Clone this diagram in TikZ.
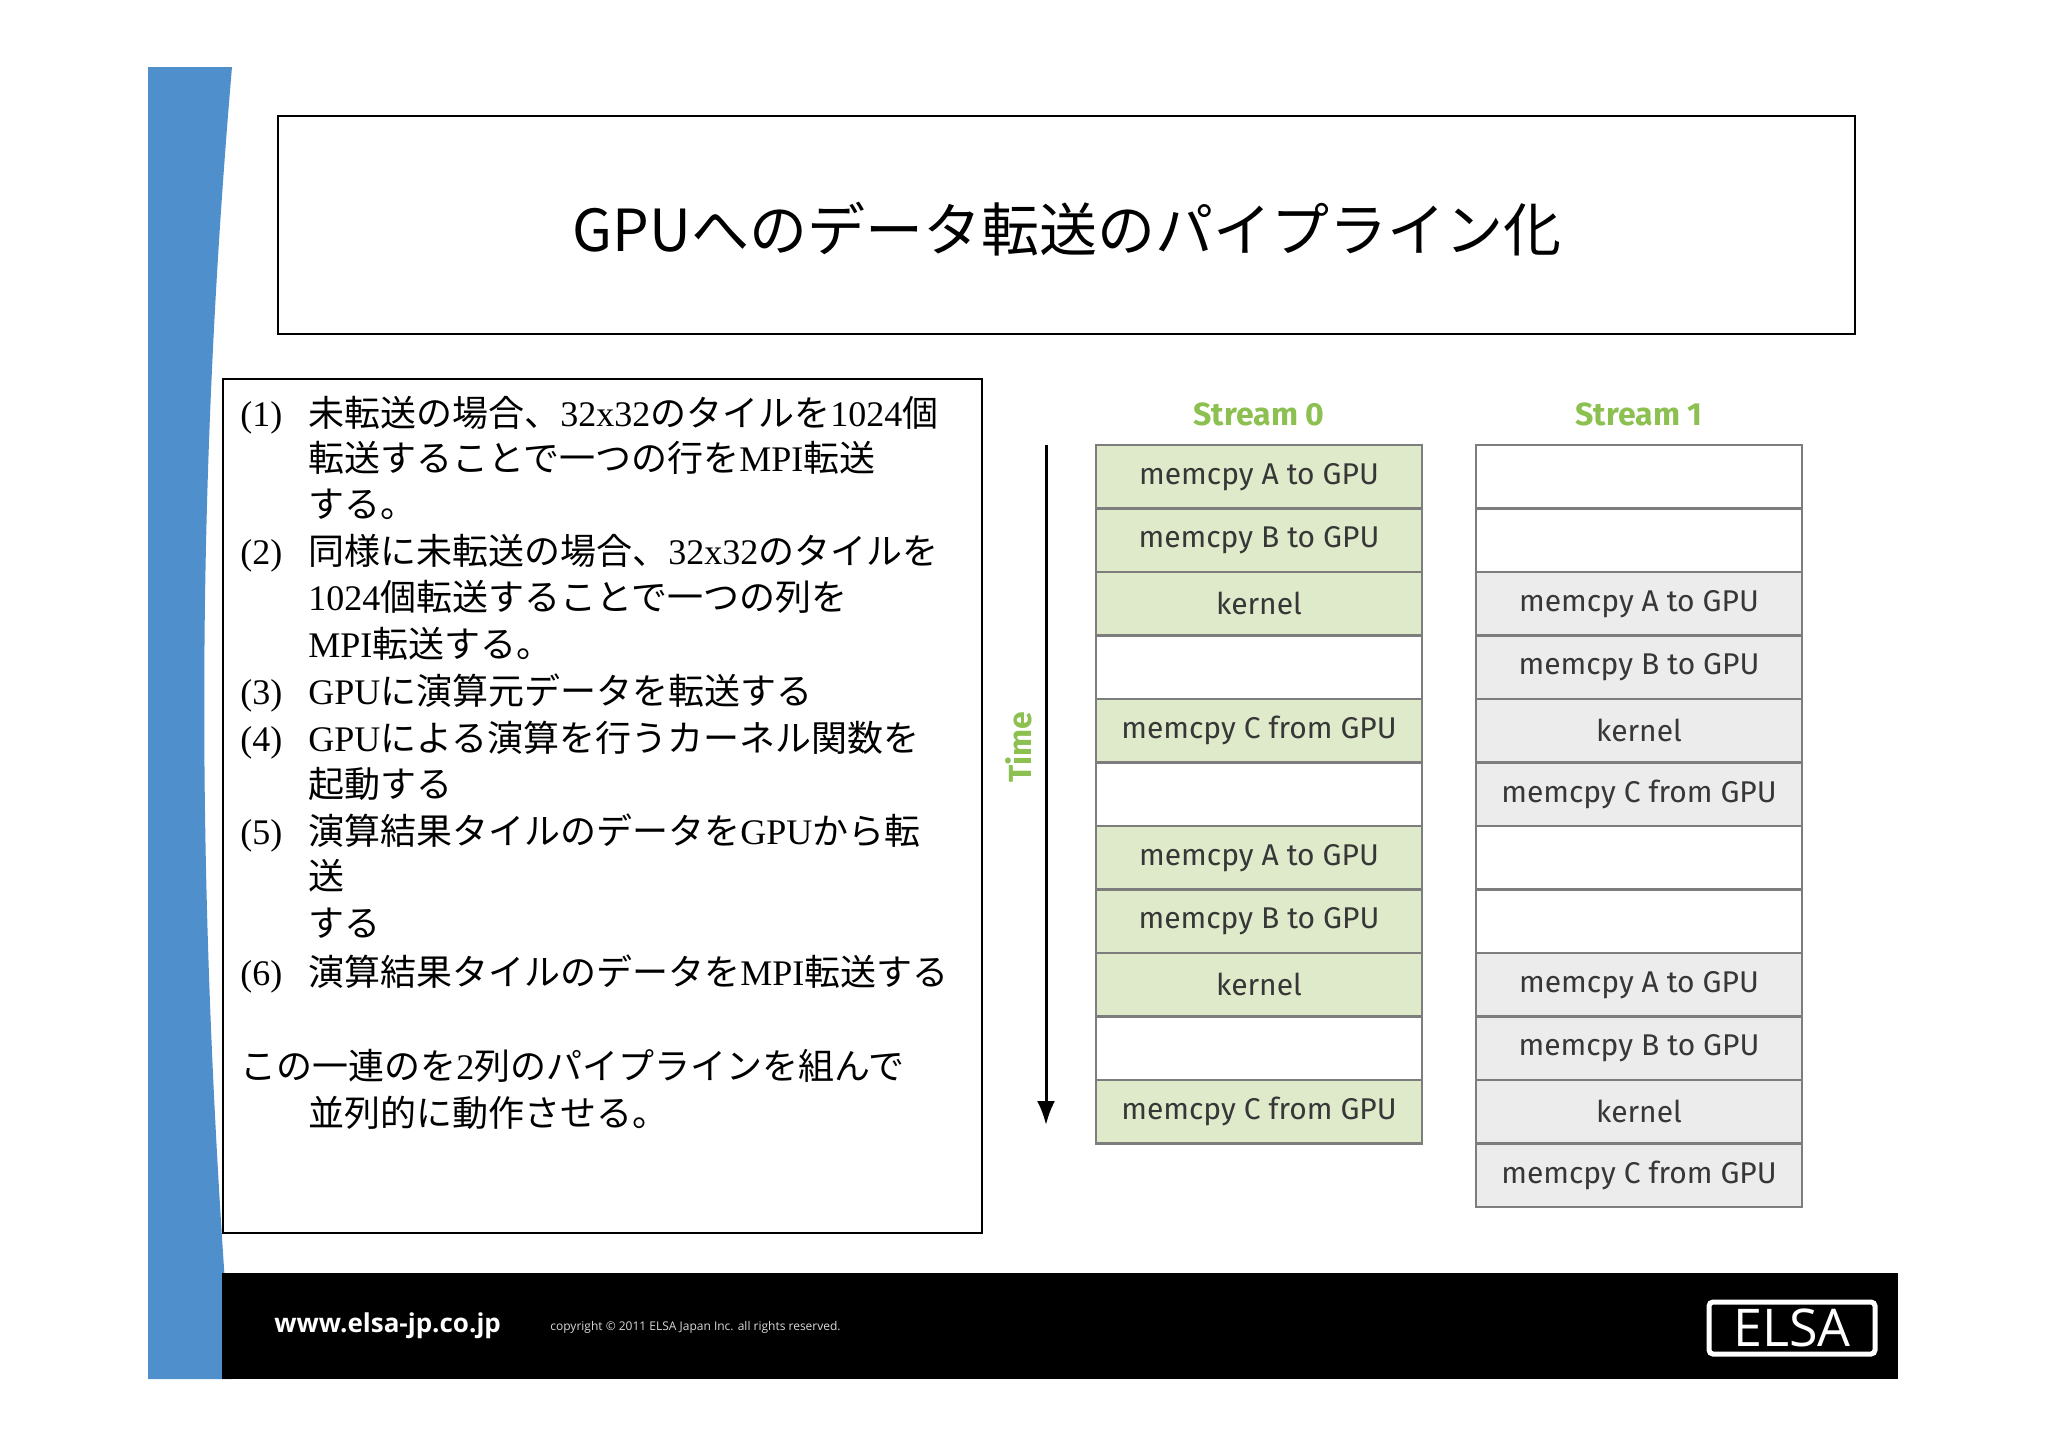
\documentclass[tikz,border=0pt]{standalone}
\usetikzlibrary{arrows.meta}
\usepackage{fontspec}
\setmainfont{Noto Sans CJK JP}
\newfontfamily\jp{Noto Sans CJK JP}
\newfontfamily\lat{Liberation Serif}
\newfontfamily\tbl{Fira Sans}
\newfontfamily\ft{Open Sans}
\definecolor{bluebar}{RGB}{79,143,204}
\definecolor{grn}{RGB}{222,234,201}
\definecolor{gry}{RGB}{236,236,236}
\definecolor{bord}{RGB}{125,125,125}
\definecolor{txt}{RGB}{55,55,55}
\definecolor{hdr}{RGB}{140,192,80}
\newcommand{\Lt}[1]{{\lat #1}}
\begin{document}
\begin{tikzpicture}[x=0.5pt,y=-0.5pt,
  cell/.style={draw=bord,line width=1.2pt,minimum width=163pt,minimum height=31.75pt,inner sep=0,font=\tbl\fontsize{15}{18}\selectfont,text=txt},
  cg/.style={cell,fill=grn}, cy/.style={cell,fill=gry}, ce/.style={cell,fill=white},
  li/.style={anchor=base west,inner sep=0,font=\jp\fontsize{18}{22}\selectfont}]
\useasboundingbox (0,0) rectangle (2048,1447);
\fill[white] (0,0) rectangle (2048,1447);
% blue bar
\fill[bluebar] (148,67) -- (232,67) .. controls (195,500) and (195,900) .. (232,1379) -- (148,1379) -- cycle;
% footer
\fill[black] (222,1273) rectangle (1898,1379);
\node[anchor=west,text=white,inner sep=0,font=\ft\bfseries\fontsize{13}{15}\selectfont] (url) at (274,1326) {www.elsa-jp.co.jp};
\node[anchor=west,text=white!85!black,inner sep=0,font=\ft\fontsize{6}{7}\selectfont] (copy) at (550,1327) {copyright © 2011 ELSA Japan Inc. all rights reserved.};
\node[draw=white,line width=2.5pt,rounded corners=2pt,minimum width=83pt,minimum height=26pt,inner sep=0,text=white,font=\ft\fontsize{26}{26}\selectfont] (logo) at (1792,1328) {ELSA};
% title
\node[draw=black,line width=0.8pt,minimum width=788.5pt,minimum height=109pt,inner sep=0] (title) at (1066.5,225) {};
\node[font=\jp\fontsize{29}{34}\selectfont] (tt) at (1067,229) {GPUへのデータ転送のパイプライン化};
% left text box
\draw[line width=0.8pt] (223,379) rectangle (982,1233);
\node[li] at (240,426) {\Lt{(1)}};
\node[li] at (308,426) {未転送の場合、\Lt{32x32}のタイルを\Lt{1024}個};
\node[li] at (308,471) {転送することで一つの行を\Lt{MPI}転送};
\node[li] at (308,517) {する。};
\node[li] at (240,564) {\Lt{(2)}};
\node[li] at (308,564) {同様に未転送の場合、\Lt{32x32}のタイルを};
\node[li] at (308,610) {\Lt{1024}個転送することで一つの列を};
\node[li] at (308,657) {\Lt{MPI}転送する。};
\node[li] at (240,704) {\Lt{(3)}};
\node[li] at (308,704) {\Lt{GPU}に演算元データを転送する};
\node[li] at (240,751) {\Lt{(4)}};
\node[li] at (308,751) {\Lt{GPU}による演算を行うカーネル関数を};
\node[li] at (308,797) {起動する};
\node[li] at (240,844) {\Lt{(5)}};
\node[li] at (308,844) {演算結果タイルのデータを\Lt{GPU}から転};
\node[li] at (308,889) {送};
\node[li] at (308,936) {する};
\node[li] at (240,985) {\Lt{(6)}};
\node[li] at (308,985) {演算結果タイルのデータを\Lt{MPI}転送する};
\node[li] at (240,1079) {この一連のを\Lt{2}列のパイプラインを組んで};
\node[li] at (308,1126) {並列的に動作させる。};
% streams
\node[text=hdr,font=\tbl\bfseries\fontsize{16}{18}\selectfont] (s0) at (1259,414) {Stream 0};
\node[text=hdr,font=\tbl\bfseries\fontsize{16}{18}\selectfont] (s1) at (1639,414) {Stream 1};
\foreach \s/\t [count=\i from 0] in {cg/memcpy A to GPU,cg/memcpy B to GPU,cg/kernel,ce/,cg/memcpy C from GPU,ce/,cg/memcpy A to GPU,cg/memcpy B to GPU,cg/kernel,ce/,cg/memcpy C from GPU}{
  \node[\s] (a\i) at (1259,{445+31.75+63.5*\i}) {\t};
}
\foreach \s/\t [count=\i from 0] in {ce/,ce/,cy/memcpy A to GPU,cy/memcpy B to GPU,cy/kernel,cy/memcpy C from GPU,ce/,ce/,cy/memcpy A to GPU,cy/memcpy B to GPU,cy/kernel,cy/memcpy C from GPU}{
  \node[\s] (b\i) at (1639,{445+31.75+63.5*\i}) {\t};
}
% time arrow
\coordinate (t0) at (1046,445);
\coordinate (t1) at (1046,1125);
\draw[line width=1.5pt,-{Latex[length=12pt,width=9pt]}] (t0) -- (t1);
\node[rotate=90,text=hdr,font=\tbl\bfseries\fontsize{16}{18}\selectfont] (time) at (1019,747) {Time};
\end{tikzpicture}
\end{document}
